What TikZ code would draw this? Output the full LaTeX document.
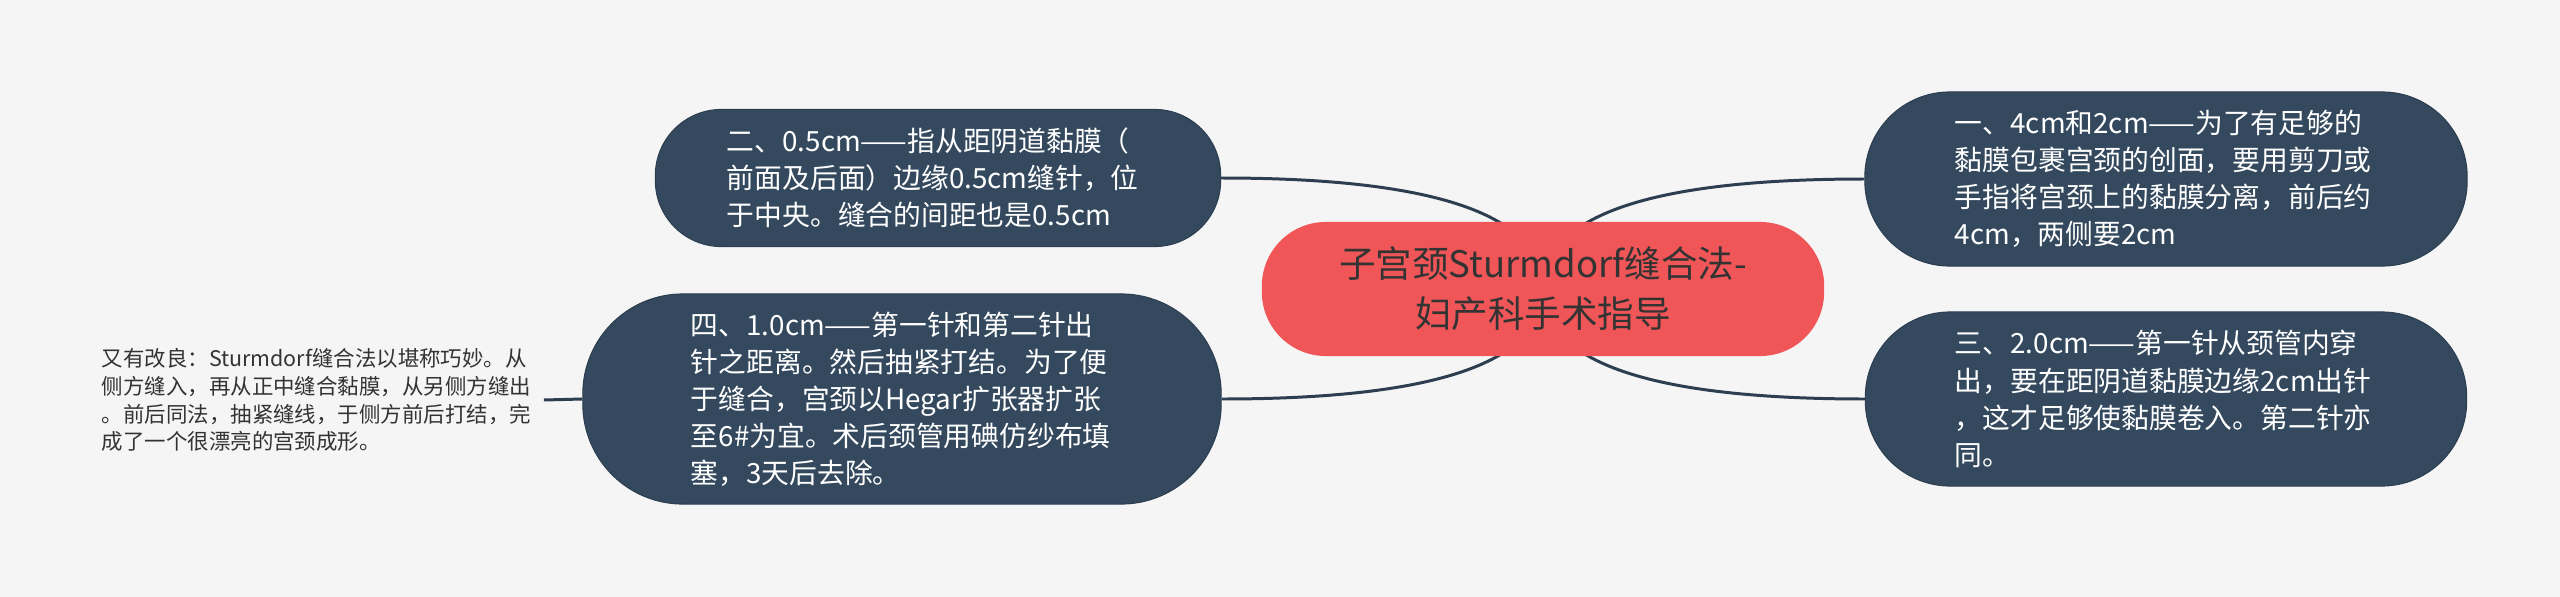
\documentclass[tikz,border=0pt]{standalone}
\usepackage{fontspec}
\setmainfont{Noto Sans CJK SC}
\usepackage[HTML]{xcolor}
\usetikzlibrary{backgrounds, calc}

\definecolor{pagebg}{HTML}{F5F5F5}
\definecolor{topicfill}{HTML}{34495E}
\definecolor{rootfill}{HTML}{F05657}
\definecolor{linkcol}{HTML}{2C3E50}
\definecolor{darktext}{HTML}{333333}

\begin{document}
\begin{tikzpicture}[x=0.01cm, y=-0.01cm,
    topic/.style={draw=linkcol, line width=0.3pt, fill=topicfill, text=white,
        align=left, text width=4.22cm, inner sep=0pt,
        font=\fontsize{7.9}{10.55}\selectfont},
    rootnode/.style={fill=rootfill, text=darktext, align=center, inner sep=0pt,
        minimum width=5.62cm, minimum height=1.34cm, rounded corners=0.64cm,
        font=\fontsize{10.4}{14.2}\selectfont},
    leafnote/.style={text=darktext, align=left, text width=4.3cm,
        inner xsep=0.11cm, inner ysep=0pt, font=\fontsize{6.1}{7.9}\selectfont},
    link/.style={draw=linkcol, line width=0.85pt}]
    \useasboundingbox (0,0) rectangle (2560,597);

    % Define nodes
    \node[rootnode] (root) at (1543,289) {子宫颈Sturmdorf缝合法-\\妇产科手术指导};
    \node[topic, minimum width=5.65cm, minimum height=1.37cm, rounded corners=0.66cm] (two) at (938,178)
        {二、0.5cm——指从距阴道黏膜（\\前面及后面）边缘0.5cm缝针，位\\于中央。缝合的间距也是0.5cm};
    \node[topic, minimum width=6.38cm, minimum height=2.10cm, rounded corners=1.0cm] (four) at (902,399)
        {四、1.0cm——第一针和第二针出\\针之距离。然后抽紧打结。为了便\\于缝合，宫颈以Hegar扩张器扩张\\至6\#为宜。术后颈管用碘仿纱布填\\塞，3天后去除。};
    \node[topic, minimum width=6.02cm, minimum height=1.74cm, rounded corners=0.85cm] (one) at (2166,179)
        {一、4cm和2cm——为了有足够的\\黏膜包裹宫颈的创面，要用剪刀或\\手指将宫颈上的黏膜分离，前后约\\4cm，两侧要2cm};
    \node[topic, minimum width=6.01cm, minimum height=1.74cm, rounded corners=0.85cm] (three) at (2166,399)
        {三、2.0cm——第一针从颈管内穿\\出，要在距阴道黏膜边缘2cm出针\\，这才足够使黏膜卷入。第二针亦\\同。};
    \node[leafnote] (improve) at (317,400)
        {又有改良：Sturmdorf缝合法以堪称巧妙。从\\侧方缝入，再从正中缝合黏膜，从另侧方缝出\\。前后同法，抽紧缝线，于侧方前后打结，完\\成了一个很漂亮的宫颈成形。};

    % Draw connectors
    \begin{scope}[on background layer]
        \fill[pagebg] (0,0) rectangle (2560,597);
        \foreach \kid/\side in {two/east, four/east, one/west, three/west}
            \draw[link] (root.center)
                .. controls ($(root.center)!0.667!(root.center |- \kid.\side)$)
                and ($(\kid.\side)!0.667!(root.center |- \kid.\side)$) .. (\kid.\side);
        \draw[link] (improve.east) -- (four.west);
    \end{scope}
\end{tikzpicture}
\end{document}
